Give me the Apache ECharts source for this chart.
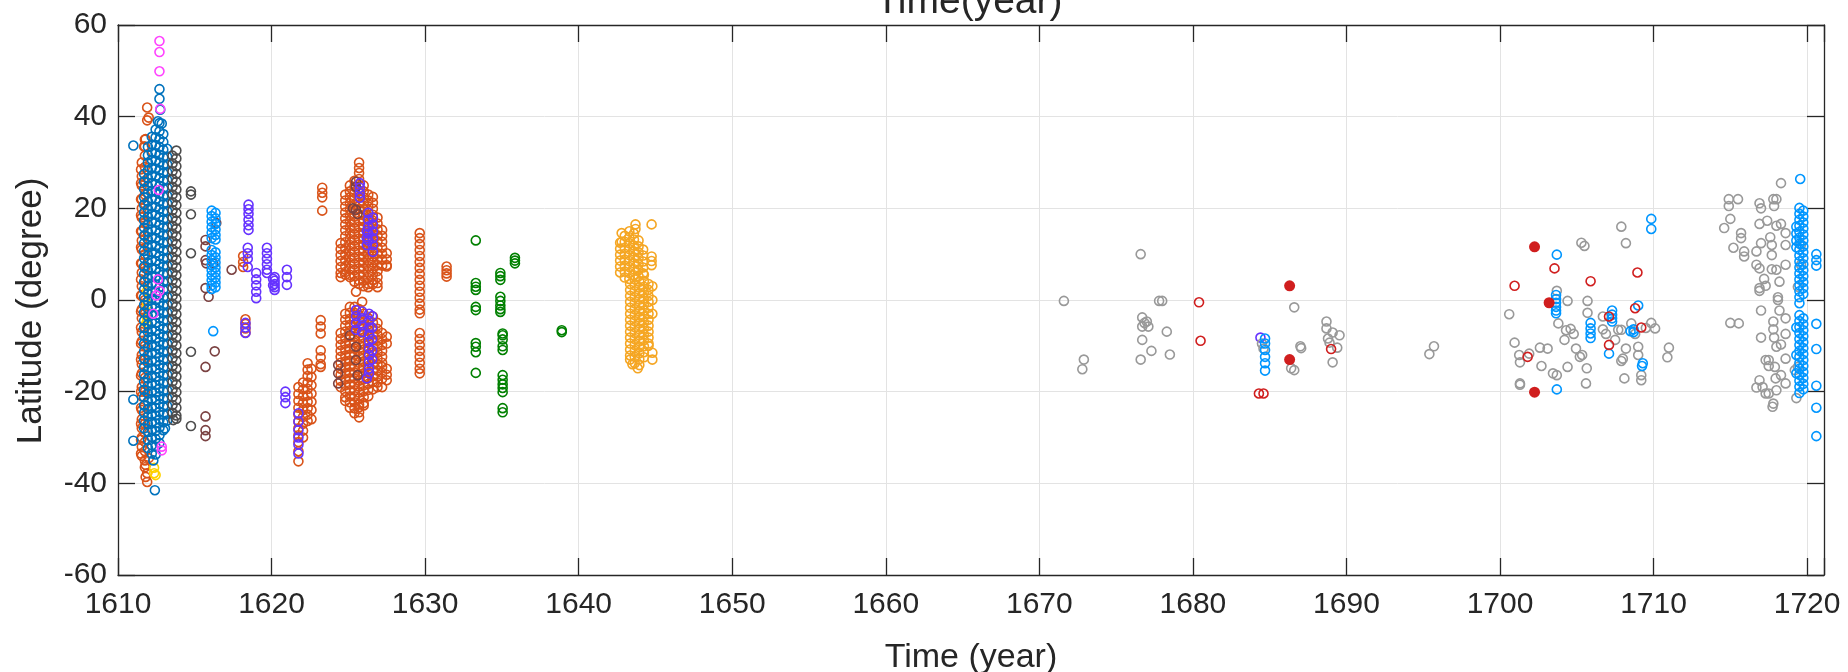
<!DOCTYPE html>
<html lang="en">
<head>
    <meta charset="UTF-8">
    <title>Latitude vs time</title>
    <script src="https://cdn.jsdelivr.net/npm/echarts@6/dist/echarts.min.js"></script>
    <style>
        html, body { margin: 0; padding: 0; background: #fff; }
        #main { width: 1848px; height: 672px; }
    </style>
</head>
<body>
<div id="main"></div>
<script type="text/javascript">
    // point groups: [year, [latitudes...]]
    var orangeRed = [
        [1611.5, [28.5, 25.5, 22, 18.5, 15, 11.5, 8, 4.5, 1, -2.5, -6, -9.5, -13, -16.5, -20, -23.5, -27, -30.5, -33.5]],
        [1611.55, [30, 27, 25, 22, 20, 18, 15, 13, 11, 8, 6, 3, 1, -2, -4, -7, -9, -12, -14, -16, -19, -21, -24, -26, -28, -30, -32, -34]],
        [1611.75, [35, 33.5, 31.5, 29, 26, 23, 21, 17, 14, 10, 7, 4, 0, -3, -6, -10, -13, -17, -20, -23, -27, -29, -31, -33, -35, -36.5]],
        [1611.9, [42, 39.2, -39.7, -37.8]], [1612.0, [39.8, -34.5]], [1611.8, [35.1, -36, -38.6]], [1611.7, [33.5]],
        [1618.15, [9.6, 8.3, 7.2]], [1618.3, [-4.2, -5.2, -6.2, -7.1]],
        [1621.75, [-19, -20.5, -22, -23.5, -25, -26.5, -28, -29.5, -31, -33, -35.2]],
        [1622.05, [-18, -19.5, -21, -22.5, -24, -25.5, -27, -28.5, -30]],
        [1622.35, [-13.8, -15.2, -16.6, -18, -19.4, -20.8, -22.2, -23.6, -25, -26.4]],
        [1622.6, [-15, -16.8, -18.6, -20.4, -22.2, -24, -26]],
        [1623.3, [24.5, 23.4, 22.4, 19.5]], [1623.2, [-4.4, -5.8, -7.3, -11, -12.5, -14, -14.6]],
        [1624.5, [12.4, 11.1, 9.8, 8.5, 7.2, 5.9, 5.0, -7.2, -8.5, -9.8, -11.1, -12.4, -13.7, -15.0, -16.3, -17.6, -19.0]],
        [1624.8, [23.0, 21.7, 20.4, 19.1, 17.8, 16.5, 15.2, 13.9, 12.6, 11.3, 10.0, 8.7, 7.4, 6.1, 5.5,
            -3.0, -4.3, -5.6, -6.9, -8.2, -9.5, -10.8, -12.1, -13.4, -14.7, -16.0, -17.3, -18.6, -19.9, -21.2, -22.0]],
        [1625.1, [25.0, 23.7, 22.4, 21.1, 19.8, 18.5, 17.2, 15.9, 14.6, 13.3, 12.0, 10.7, 9.4, 8.1, 6.8, 5.5, 5.0,
            -1.5, -2.8, -4.1, -5.4, -6.7, -8.0, -9.3, -10.6, -11.9, -13.2, -14.5, -15.8, -17.1, -18.4, -19.7, -21.0, -22.3, -23.5]],
        [1625.4, [26.0, 24.7, 23.4, 22.1, 20.8, 19.5, 18.2, 16.9, 15.6, 14.3, 13.0, 11.7, 10.4, 9.1, 7.8, 6.5, 5.2, 4.0,
            -1.5, -2.8, -4.1, -5.4, -6.7, -8.0, -9.3, -10.6, -11.9, -13.2, -14.5, -15.8, -17.1, -18.4, -19.7, -21.0, -22.3, -23.6, -24.7]],
        [1625.7, [30.0, 28.8, 27.7, 26.4, 25.1, 23.8, 22.5, 21.2, 19.9, 18.6, 17.3, 16.0, 14.7, 13.4, 12.1, 10.8, 9.5, 8.2, 6.9, 5.6, 4.3, 3.5,
            -2.0, -3.3, -4.6, -5.9, -7.2, -8.5, -9.8, -11.1, -12.4, -13.7, -15.0, -16.3, -17.6, -18.9, -20.2, -21.5, -22.8, -23.4, -24.5, -25.6]],
        [1626.0, [25.0, 23.7, 22.4, 21.1, 19.8, 18.5, 17.2, 15.9, 14.6, 13.3, 12.0, 10.7, 9.4, 8.1, 6.8, 5.5, 4.2, 3.0,
            -3.0, -4.3, -5.6, -6.9, -8.2, -9.5, -10.8, -12.1, -13.4, -14.7, -16.0, -17.3, -18.6, -19.9, -21.2, -22.5, -23.0]],
        [1626.3, [23.0, 21.7, 20.4, 19.1, 17.8, 16.5, 15.2, 13.9, 12.6, 11.3, 10.0, 8.7, 7.4, 6.1, 4.8, 3.5, 2.8,
            -4.0, -5.3, -6.6, -7.9, -9.2, -10.5, -11.8, -13.1, -14.4, -15.7, -17.0, -18.3, -19.6, -21.0]],
        [1626.6, [22.5, 21.2, 19.9, 18.6, 17.3, 16.0, 14.7, 13.4, 12.1, 10.8, 9.5, 8.2, 6.9, 5.6, 4.3, 3.5,
            -3.6, -4.9, -6.2, -7.5, -8.8, -10.1, -11.4, -12.7, -14.0, -15.3, -16.6, -17.9, -19.5]],
        [1626.9, [18.0, 16.7, 15.4, 14.1, 12.8, 11.5, 10.2, 8.9, 7.6, 6.3, 5.0, 3.7, 2.8,
            -5.0, -6.3, -7.6, -8.9, -10.2, -11.5, -12.8, -14.1, -15.4, -16.7, -18.0, -19.0]],
        [1627.2, [15.3, 14.0, 12.7, 11.4, 10.1, 8.8, 7.5, -7.2, -8.5, -9.8, -11.1, -12.4, -13.7, -14.6, -15.9, -17.2, -19.0]],
        [1627.5, [10.2, 8.9, 7.6, 7.3, -8.0, -9.5, -15.0, -16.3, -17.5]],
        [1625.5, [1.8]], [1625.9, [-0.4]],
        [1629.65, [14.6, 13.5, 12.2, 10.9, 9.6, 8.3, 7.0, 5.7, 4.4, 3.1, 1.8, 0.5, -0.8, -2.1, -2.9,
            -7.2, -8.5, -9.8, -11.1, -12.4, -13.7, -15.0, -16.0]],
        [1631.4, [7.3, 6.5, 5.8, 5.1]]
    ];

    var yellow = [
        [1611.9, [2, -1, -4]], [1611.85, [-5]],
        [1612.35, [-37.8, -36.6]], [1612.45, [-38.2]]
    ];

    var blue = [
        [1611.7, [27.5, 25.8, 24.2, 22.4, 20.8, 19.1, 17.4, 15.8, 14.1, 12.4, 10.7, 9.1, 7.3, 5.7, 4.0, 2.3, 0.6, -1.1, -2.7, -4.5,
            -6.1, -7.8, -9.5, -11.2, -12.8, -14.6, -16.2, -17.9, -19.6, -21.2, -23.0, -24.6, -26.3, -28.0]],
        [1611.95, [33.4, 31.6, 30.0, 28.3, 26.6, 24.9, 23.3, 21.5, 19.9, 18.2, 16.5, 14.9, 13.2, 11.5, 9.8, 8.2, 6.5, 4.8, 3.1, 1.4,
            -0.2, -1.9, -3.6, -5.3, -7.0, -8.6, -10.3, -12.0, -13.7, -15.3, -17.1, -18.7, -20.4, -22.1, -23.8, -25.4, -27.1, -28.8, -30.5, -32.3]],
        [1612.2, [35.6, 33.9, 32.2, 30.6, 28.8, 27.2, 25.5, 23.8, 22.1, 20.4, 18.8, 17.1, 15.4, 13.7, 12.0, 10.4, 8.7, 7.0, 5.3, 3.6, 1.9,
            0.3, -1.4, -3.1, -4.8, -6.4, -8.1, -9.8, -11.5, -13.2, -14.9, -16.5, -18.2, -19.9, -21.6, -23.3, -24.9, -26.6, -28.3, -30.0, -31.7, -33.5]],
        [1612.45, [37.2, 35.5, 33.8, 32.0, 30.4, 28.7, 27.0, 25.3, 23.6, 22.0, 20.3, 18.6, 16.9, 15.2, 13.5, 11.8, 10.2, 8.5, 6.8, 5.1, 3.4, 1.7,
            0.0, -1.6, -3.3, -5.0, -6.7, -8.4, -10.1, -11.7, -13.4, -15.1, -16.8, -18.5, -20.2, -21.8, -23.5, -25.2, -26.9, -28.6, -30.3, -32.0, -33.7]],
        [1612.7, [38.6, 36.8, 35.1, 33.4, 31.7, 30.0, 28.3, 26.6, 24.9, 23.2, 21.5, 19.8, 18.1, 16.4, 14.7, 13.0, 11.3, 9.6, 7.9, 6.2, 4.5, 2.8,
            1.1, -0.6, -2.3, -4.0, -5.7, -7.4, -9.1, -10.8, -12.5, -14.2, -15.9, -17.6, -19.3, -21.0, -22.7, -24.4, -26.1, -27.8, -29.5, -31.2]],
        [1612.95, [36.2, 34.5, 32.8, 31.1, 29.4, 27.7, 26.0, 24.3, 22.6, 20.9, 19.2, 17.5, 15.8, 14.1, 12.4, 10.7, 9.0, 7.3, 5.6, 3.9, 2.2,
            0.5, -1.2, -2.9, -4.6, -6.3, -8.0, -9.7, -11.4, -13.1, -14.8, -16.5, -18.2, -19.9, -21.6, -23.3, -25.0, -26.7, -28.4]],
        [1613.2, [33.0, 31.3, 29.6, 27.9, 26.2, 24.5, 22.8, 21.1, 19.4, 17.7, 16.0, 14.3, 12.6, 10.9, 9.2, 7.5, 5.8, 4.1, 2.4, 0.7,
            -1.0, -2.7, -4.4, -6.1, -7.8, -9.5, -11.2, -12.9, -14.6, -16.3, -18.0, -19.7, -21.4, -23.1, -24.8, -26.3]],
        [1612.7, [46, 43.9]], [1612.75, [41.5]], [1612.6, [39]], [1612.85, [38.5]],
        [1611.0, [33.7, -21.7, -30.7]], [1612.4, [-41.5]], [1612.3, [-35]], [1613.06, [-28]]
    ];

    var magenta = [
        [1612.7, [56.5, 54.1, 49.9, 2]], [1612.75, [41.7]], [1612.65, [24]],
        [1612.6, [4.5]], [1612.5, [1]], [1612.3, [-3]], [1612.85, [-32, -32.8]]
    ];

    var darkGray = [
        [1613.55, [31.5, 29.8, 28.1, 26.4, 24.7, 23.0, 21.3, 19.6, 17.9, 16.2, 14.5, 12.8, 11.1, 9.4, 7.7, 6.0, 4.3, 2.6, 0.9,
            -0.8, -2.5, -4.2, -5.9, -7.6, -9.3, -11.0, -12.7, -14.4, -16.1, -17.8, -19.5, -21.2, -22.9, -24.6]],
        [1613.8, [32.6, 30.9, 29.2, 27.5, 25.8, 24.1, 22.4, 20.7, 19.0, 17.3, 15.6, 13.9, 12.2, 10.5, 8.8, 7.1, 5.4, 3.7, 2.0, 0.3,
            -1.4, -3.1, -4.8, -6.5, -8.2, -9.9, -11.6, -13.3, -15.0, -16.7, -18.4, -20.1, -21.8, -23.5, -25.2, -25.9]],
        [1613.6, [-26.2]],
        [1614.75, [23.7, 23, 18.7, 10.2, -11.3, -27.5]]
    ];

    var maroon = [
        [1616.4, [16.8]], [1615.7, [13.1, 11.7, 8.7, 2.6, -14.6, -25.4, -28.4, -29.7]], [1615.75, [8.0]],
        [1616.2, [8.0]], [1617.4, [6.6]], [1615.9, [0.7]], [1616.3, [-11.2]],
        [1625.5, [25.8, 24.7, 19.7, -10.2, -13.1]], [1625.3, [20]], [1625.6, [18.8, -16.4]],
        [1624.34, [-14.2, -16, -18.2]], [1625.1, [-7.7]]
    ];

    var lightBlue = [
        [1616.1, [19.5, 18.3, 17.1, 15.9, 14.7, 13.5, 10.9, 9.8, 8.7, 7.6, 6.5, 5.4, 4.3, 3.2, 2.4]],
        [1616.35, [19, 17.8, 16.6, 15.4, 14.2, 13.2, 10.4, 9.3, 8.2, 7.1, 6.0, 4.9, 3.8, 2.8]],
        [1616.2, [-6.8]]
    ];

    var violet = [
        [1618.5, [20.8, 19.8, 18.8, 17.5, 16.3, 15.3]], [1618.45, [11.4, 10.2, 9, 7.2]],
        [1619.0, [5.9, 4.5, 3.2, 1.8, 0.4]], [1619.7, [11.4, 10.2, 9, 7.8, 6.6, 5.9]],
        [1620.2, [5.0, 4.2, 3.5, 2.8, 2.2]], [1620.1, [4.6, 3.2]], [1621.0, [6.6, 5.0, 3.3]],
        [1618.3, [-5.0, -6.0, -7.2]], [1620.9, [-20, -21.2, -22.5]],
        [1621.75, [-24.7, -26.5, -28.4, -30, -31.5, -33.5]],
        [1625.75, [25.5, 24.5, 23.3, 22.3]], [1626.3, [19, 17.5, 16, 14.5, 13]],
        [1626.6, [18, 16.5, 15, 13.5, 12, 10.5]], [1626.2, [15, 13.5, 12, -17.1]],
        [1625.5, [-2.2, -3.5, -5, -6.5]], [1625.9, [-2.5, -4, -5.5, -7]],
        [1626.35, [-3, -4.5, -6, -7.5, -9, -10.5, -12, -13.5, -15, -16]],
        [1626.55, [-3.5, -6, -8.5, -11, -13]],
        [1684.4, [-8.2]]
    ];

    var green = [
        [1633.3, [13.0, 3.7, 2.9, 2.2, -1.5, -2.2, -9.4, -10.2, -11.4, -15.9]],
        [1634.9, [5.9, 5.2, 4.4, 0.7, -0.2, -1.2, -2.0, -2.6]],
        [1635.05, [-7.3, -7.7, -8.6, -10.1, -10.9, -16.4, -17.4, -18.4, -19.2, -20.1, -23.6, -24.5]],
        [1635.85, [9.2, 8.6, 8.0]],
        [1638.9, [-6.6, -7.0]]
    ];

    var orange = [
        [1642.7, [12.5, 11.2, 9.9, 8.6, 7.3, 6.0]],
        [1642.8, [14.6, 12.7]],
        [1643.0, [14.0, 12.7, 11.4, 10.1, 8.8, 7.5, 6.2, 4.9]],
        [1643.3, [15.0, 13.7, 12.4, 11.1, 9.8, 8.5, 7.2, 5.9, 4.6]],
        [1643.6, [14.5, 13.2, 11.9, 10.6, 9.3, 8.0, 6.7, 5.4]],
        [1643.9, [13.0, 11.7, 10.4, 9.1, 7.8, 6.5, 5.2]],
        [1644.2, [11.0, 9.7, 8.4, 7.1, 5.8]],
        [1643.7, [16.5, 15.5]], [1644.75, [16.5, 9.5, 8.5, 7.6]],
        [1643.35, [3.5, 2.2, 0.9, -0.4, -1.7, -3.0, -4.3, -5.6, -6.9, -8.2, -9.5, -10.8, -12.1, -13.0]],
        [1643.65, [4.5, 3.2, 1.9, 0.6, -0.7, -2.0, -3.3, -4.6, -5.9, -7.2, -8.5, -9.8, -11.1, -12.4, -13.8]],
        [1643.95, [4.0, 2.7, 1.4, 0.1, -1.2, -2.5, -3.8, -5.1, -6.4, -7.7, -9.0, -10.3, -11.6, -12.9, -14.2]],
        [1644.25, [5.5, 4.2, 2.9, 1.6, 0.3, -1.0, -2.3, -3.6, -4.9, -6.2, -7.5, -8.8, -10.1, -11.4, -12.5]],
        [1644.55, [3.5, 2.2, 0.9, -0.4, -1.7, -3.0, -4.3, -5.6, -6.9, -8.2, -9.5, -10.0]],
        [1644.8, [3.0, 0.0, -3.0, -11.5, -13.0]],
        [1643.5, [-14]], [1643.85, [-14.9]]
    ];

    var gray = [
        [1671.6, [-0.2]], [1672.9, [-13.0]], [1672.8, [-15.1]],
        [1676.6, [10.0, -13.0]], [1676.7, [-3.8, -5.8, -8.7]], [1677.0, [-4.7]], [1677.1, [-5.8]], [1676.85, [-5.0]],
        [1677.8, [-0.2]], [1678.0, [-0.2]], [1678.3, [-6.9]], [1677.3, [-11.1]], [1678.5, [-11.9]],
        [1686.6, [-1.6, -15.3]], [1684.6, [-10.6]], [1684.5, [-9.5]], [1687.0, [-10.1]], [1687.05, [-10.5]], [1686.4, [-14.9]],
        [1688.7, [-4.7, -6.2]], [1689.1, [-7.1, -13.6]], [1689.55, [-7.7]], [1688.8, [-8.4]], [1688.9, [-9.3]], [1689.4, [-10.4]],
        [1695.7, [-10.1]], [1695.4, [-11.8]],
        [1700.6, [-3.1]], [1700.95, [-9.3]], [1701.25, [-12.0]], [1701.3, [-13.6, -18.2, -18.5]],
        [1701.9, [-11.7]], [1702.6, [-10.4]], [1702.7, [-14.4]], [1703.1, [-10.6]], [1703.45, [-16.0]],
        [1703.7, [2.0, -16.4]], [1703.8, [-5.1]], [1704.2, [-8.7]], [1704.3, [-6.6]], [1704.4, [-14.6, -0.2]],
        [1704.6, [-6.3]], [1704.8, [-7.4]], [1704.95, [-10.6]], [1705.2, [-12.4]], [1705.35, [-12.0]],
        [1705.6, [-18.2]], [1705.7, [-0.2, -2.8]], [1705.3, [12.5]], [1705.5, [11.8]], [1705.65, [-14.9]],
        [1706.7, [-3.6, -6.4]], [1706.9, [-7.4]], [1707.5, [-8.7]], [1707.7, [-6.5]], [1707.9, [-6.5, 16.0, -13.3]],
        [1708.0, [-12.8]], [1708.1, [-17.1]], [1708.2, [12.4, -10.6]], [1708.55, [-5.1]], [1708.8, [-7.4]],
        [1709.0, [-10.2, -12.0]], [1709.2, [-17.5, -16.4]], [1709.5, [-6.1]], [1709.85, [-5.0]], [1710.1, [-6.2]],
        [1711.0, [-10.4]], [1710.9, [-12.5]],
        [1718.3, [25.5, 16.6, -9.7]], [1714.9, [22.0, 20.5]], [1715.5, [22.0]], [1716.9, [21.1, 16.6, 6.9, 2.6, 2.0, -17.5]],
        [1717.0, [20.0, 12.4, -2.3, -8.2]], [1717.8, [22.0, -4.7, -6.4, -22.6]], [1718.0, [22.0, 16.2, 6.6, -10.2, -19.7]],
        [1717.85, [20.5, -8.2]], [1715.0, [17.7]], [1714.6, [15.7]], [1717.4, [17.3]],
        [1715.7, [14.6, 13.5]], [1717.6, [13.7]], [1718.6, [14.6, 12.0, 7.7, -4.0, -7.4, -12.8, -18.2]],
        [1717.7, [12.0, 9.8, 6.7]], [1715.2, [11.4]], [1715.9, [10.6, 9.5]], [1716.7, [10.6, 7.7, -19.1]],
        [1719.6, [12.1, 7.7]], [1717.2, [4.6]], [1718.2, [4.0, -2.3]], [1717.3, [3.1, -13.1, -20.4]],
        [1719.4, [2.9, -14.6]], [1718.1, [0, 0.6]], [1715.55, [-5.1]], [1717.5, [-13.1, -14.4, -20.4]],
        [1717.9, [-14.6]], [1719.2, [-15.3]], [1718.3, [-16.4]], [1717.95, [-17.1]], [1717.1, [-19.0]],
        [1717.75, [-23.3]], [1719.3, [-21.4]], [1715.0, [-5.0]]
    ];

    var lightBlueLate = [
        [1684.7, [-8.4, -9.5, -10.9, -12.4, -13.8, -15.4]],
        [1703.7, [9.9, -19.5]], [1703.65, [1.1, 0.2, -0.6, -1.5, -2.3, -2.9]],
        [1709.85, [17.7, 15.5]], [1709.0, [-1.2]], [1705.9, [-5.0, -6.2, -7.3, -8.3]],
        [1707.3, [-2.3, -3.2, -4.0, -4.7]], [1707.1, [-11.7]], [1708.7, [-6.4, -7]], [1708.5, [-6.8]],
        [1709.3, [-13.8]], [1709.25, [-14.4]],
        [1719.55, [26.4]],
        [1719.5, [20.1, 18.8, 17.5, 16.2, 14.9, 13.6, 12.3, 11.0, 9.7, 8.4, 7.1, 5.8, 4.5, 3.2, 1.9, 0.6, -0.7,
            -3.3, -4.6, -5.9, -7.2, -8.5, -9.8, -11.1, -12.4, -13.7, -15.0, -16.3, -17.6, -18.9, -20.3]],
        [1719.75, [19.5, 18.2, 16.9, 15.6, 14.3, 13.0, 11.7, 10.4, 9.1, 7.8, 6.5, 5.2, 3.9, 2.6, 1.3,
            -4.0, -5.3, -6.6, -7.9, -9.2, -10.5, -11.8, -13.1, -14.4, -15.7, -17.0, -18.3, -19.5]],
        [1719.3, [16, 14.5, 13, 11.5, -6, -12, -16]],
        [1720.6, [10.0, 8.7, 7.5, -5.2, -10.7, -18.7, -23.5, -29.7]]
    ];

    var redOpen = [
        [1680.4, [-0.5]], [1680.5, [-8.9]], [1684.3, [-20.4]], [1684.6, [-20.4]], [1689.0, [-10.7]],
        [1700.95, [3.1]], [1703.55, [6.9]], [1705.9, [4.1]], [1708.95, [6.0]], [1701.8, [-12.4]],
        [1707.1, [-9.8, -3.6]], [1708.8, [-1.8]], [1709.2, [-6.0]]
    ];

    var redFilled = [
        [1686.3, [3.1, -13.0]], [1702.25, [11.6, -20.1]], [1703.2, [-0.6]]
    ];

    var xTicks = [1610, 1620, 1630, 1640, 1650, 1660, 1670, 1680, 1690, 1700, 1710, 1720];
    var yTicks = [-60, -40, -20, 0, 20, 40, 60];

    var FONT = '"Liberation Sans", Arial, Helvetica, sans-serif';
    var INK = '#262626';

    // 展开 [year, [lat...]] 为 [year, lat] 点
    function expand(groups) {
        var out = [];
        groups.forEach(function (g) {
            g[1].forEach(function (lat) { out.push([g[0], lat]); });
        });
        return out;
    }

    function rings(name, color, groups) {
        return {
            type: 'scatter', name: name, data: expand(groups),
            symbol: 'circle', symbolSize: 9,
            itemStyle: { color: 'rgba(255,255,255,0)', borderColor: color, borderWidth: 1.6, opacity: 1 }
        };
    }

    function dots(name, color, groups) {
        return {
            type: 'scatter', name: name, data: expand(groups),
            symbol: 'circle', symbolSize: 11,
            itemStyle: { color: color, borderWidth: 0, opacity: 1 }
        };
    }

    var myChart = echarts.init(document.getElementById('main'), null, { renderer: 'canvas' });

    var boxAxis = {
        axisLine: { show: true, onZero: false, lineStyle: { color: INK, width: 1.3 } },
        axisTick: { show: true, inside: true, length: 17, lineStyle: { color: INK, width: 1.3 } }
    };

    var option = {
        animation: false,
        backgroundColor: '#fff',
        title: {
            text: 'Time(year)', left: 964, top: -22, textAlign: 'center',
            textStyle: { fontSize: 39, fontWeight: 'normal', color: INK, fontFamily: FONT }
        },
        // y 轴标题单独放置 (比坐标轴中心略低)
        graphic: [{
            type: 'text', x: 31, y: 311, rotation: Math.PI / 2,
            style: {
                text: 'Latitude (degree)', fill: INK, align: 'center', verticalAlign: 'middle',
                font: '35px "Liberation Sans", Arial, sans-serif'
            }
        }],
        grid: { left: 118, right: 24, top: 25, bottom: 97, outerBoundsMode: 'none' },
        xAxis: [{
            type: 'value', min: xTicks[0], max: 1721.1, interval: 10,
            name: 'Time (year)', nameLocation: 'middle', nameGap: 66,
            nameTextStyle: { fontSize: 34, color: INK, fontFamily: FONT },
            axisLine: boxAxis.axisLine, axisTick: boxAxis.axisTick,
            axisLabel: {
                fontSize: 30, color: INK, fontFamily: FONT, margin: 15,
                formatter: function (v) { return xTicks.indexOf(v) >= 0 ? String(v) : ''; }
            },
            splitLine: { show: true, lineStyle: { color: '#e3e3e3', width: 1 } }
        }, {
            type: 'value', position: 'top', min: xTicks[0], max: 1721.1, interval: 10,
            axisLine: boxAxis.axisLine, axisTick: boxAxis.axisTick,
            axisLabel: { show: false }, splitLine: { show: false }
        }],
        yAxis: [{
            type: 'value', min: yTicks[0], max: yTicks[yTicks.length - 1], interval: 20,
            axisLine: boxAxis.axisLine, axisTick: boxAxis.axisTick,
            axisLabel: { fontSize: 30, color: INK, fontFamily: FONT, margin: 11 },
            splitLine: { show: true, lineStyle: { color: '#e3e3e3', width: 1 } }
        }, {
            type: 'value', position: 'right', min: yTicks[0], max: yTicks[yTicks.length - 1], interval: 20,
            axisLine: boxAxis.axisLine, axisTick: boxAxis.axisTick,
            axisLabel: { show: false }, splitLine: { show: false }
        }],
        series: [
            rings('orangeRed', '#D95319', orangeRed),
            rings('yellow', '#FFD200', yellow),
            rings('blue', '#0072BD', blue),
            rings('magenta', '#FF44FF', magenta),
            rings('darkGray', '#4D4D4D', darkGray),
            rings('maroon', '#7B4242', maroon),
            rings('lightBlue', '#0096FF', lightBlue),
            rings('violet', '#6633FF', violet),
            rings('green', '#008000', green),
            rings('orange', '#F5A623', orange),
            rings('gray', '#999999', gray),
            rings('lightBlueLate', '#0096FF', lightBlueLate),
            rings('redOpen', '#D01E1E', redOpen),
            dots('redFilled', '#D01E1E', redFilled)
        ]
    };

    myChart.setOption(option);
</script>
</body>
</html>
